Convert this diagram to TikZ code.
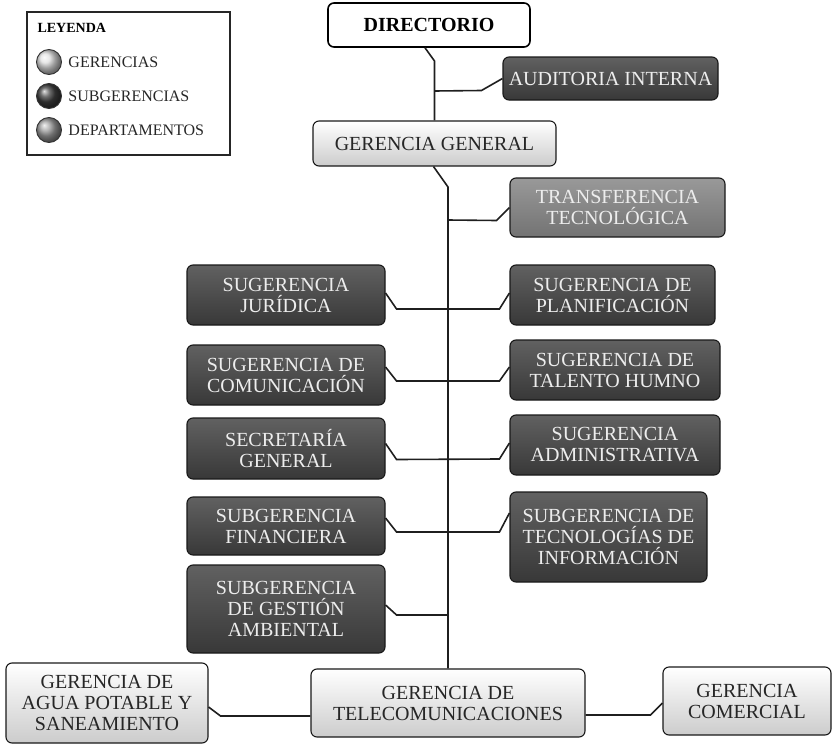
\documentclass[tikz,border=0pt]{standalone}
\usepackage{fontspec}
\setmainfont{Liberation Serif}
\usetikzlibrary{positioning,calc}

\begin{document}
\begin{tikzpicture}[x=1pt,y=-1pt]
	% Configurable lengths
	\def\boxWidth{198pt}
	\def\rowHeight{60pt}
	\def\elbowX{11}
	\def\elbowY{14}

	% Styles
	\tikzstyle{box}=[draw=black!90, line width=1.1pt, rounded corners=6pt, align=center, inner sep=2pt, font={\fontsize{20}{21}\selectfont}]
	\tikzstyle{gerencia}=[box, top color=white, bottom color=black!20, text=black!85]
	\tikzstyle{subgerencia}=[box, top color=black!62, bottom color=black!78, text=black!7, minimum width=\boxWidth, minimum height=\rowHeight]
	\tikzstyle{depto}=[box, top color=black!40, bottom color=black!55, text=black!7]
	\tikzstyle{conn}=[line width=1.6pt, black!88]
	\tikzstyle{ball}=[circle, minimum size=25pt, draw=black!80, line width=0.9pt]
	\tikzstyle{legendtext}=[anchor=west, font={\fontsize{16}{17}\selectfont}, text=black!85]

	\useasboundingbox (0,0) rectangle (833,744);

	% Legend
	\draw[line width=1.6pt, black!85] (27,12) rectangle (230,155);
	\node[anchor=west, font={\fontsize{14}{15}\selectfont\bfseries}] (leyenda) at (34,28) {LEYENDA};
	\node[ball, ball color=black!12] (ballger) at (49,62) {};
	\node[ball, ball color=black!75] (ballsub) at (49,96) {};
	\node[ball, ball color=black!38] (balldep) at (49,130) {};
	\node[legendtext, right=3pt of ballger] {GERENCIAS};
	\node[legendtext, right=3pt of ballsub] {SUBGERENCIAS};
	\node[legendtext, right=3pt of balldep] {DEPARTAMENTOS};

	% Top level
	\node[box, fill=white, draw=black, line width=1.6pt, minimum width=202pt, minimum height=44pt, font={\fontsize{20}{21}\selectfont\bfseries}] (directorio) at (429,25) {DIRECTORIO};
	\node[subgerencia, minimum width=215pt, minimum height=43pt] (auditoria) at (610.5,78.5) {AUDITORIA INTERNA};
	\node[gerencia, minimum width=243pt, minimum height=45pt] (gergeneral) at (434.5,143.5) {GERENCIA GENERAL};
	\node[depto, minimum width=215pt, minimum height=59pt] (transferencia) at (617.5,207.5) {TRANSFERENCIA\\TECNOLÓGICA};

	% Subgerencias, left column
	\node[subgerencia] (juridica) at (286,295) {SUGERENCIA\\JURÍDICA};
	\node[subgerencia] (comunicacion) at (286,375) {SUGERENCIA DE\\COMUNICACIÓN};
	\node[subgerencia, minimum height=61pt] (secretaria) at (286,448.5) {SECRETARÍA\\GENERAL};
	\node[subgerencia, minimum height=58pt] (financiera) at (286,526) {SUBGERENCIA\\FINANCIERA};
	\node[subgerencia, minimum height=88pt] (ambiental) at (286,609) {SUBGERENCIA\\DE GESTIÓN\\AMBIENTAL};

	% Subgerencias, right column
	\node[subgerencia, minimum width=205pt] (planificacion) at (612.5,295) {SUGERENCIA DE\\PLANIFICACIÓN};
	\node[subgerencia, minimum width=210pt] (talento) at (615,370) {SUGERENCIA DE\\TALENTO HUMNO};
	\node[subgerencia, minimum width=210pt] (administrativa) at (615,445) {SUGERENCIA\\ADMINISTRATIVA};
	\node[subgerencia, minimum width=197pt, minimum height=90pt] (tecnologias) at (608.5,537) {SUBGERENCIA DE\\TECNOLOGÍAS DE\\INFORMACIÓN};

	% Gerencias, bottom row
	\node[gerencia, minimum width=202pt, minimum height=80pt] (agua) at (107,703) {GERENCIA DE\\AGUA POTABLE Y\\SANEAMIENTO};
	\node[gerencia, minimum width=274pt, minimum height=68pt] (telecom) at (448,703) {GERENCIA DE\\TELECOMUNICACIONES};
	\node[gerencia, minimum width=168pt, minimum height=68pt] (comercial) at (747,701) {GERENCIA\\COMERCIAL};

	% Spine
	\draw[conn] ($(directorio.south)+(-4,0)$) -- (gergeneral.north |- 0,61) -- (gergeneral.north);
	\draw[conn] (gergeneral.north |- 0,91) -- ($(auditoria.west)+(-21,12)$) -- (auditoria.west);
	\draw[conn] ($(gergeneral.south)+(-1,0)$) -- (telecom.north |- 0,187) -- (telecom.north);
	\draw[conn] (telecom.north |- 0,220) -- ($(transferencia.west)+(-13,13)$) -- (transferencia.west);

	% Branches
	\draw[conn] ($(juridica.east)+(0,-2)$) -- ++(\elbowX,16) -- ($(planificacion.west)+(-10,\elbowY)$) -- ($(planificacion.west)+(0,-2)$);
	\draw[conn] ($(comunicacion.east)+(0,-8)$) -- ++(\elbowX,\elbowY) -- ($(talento.west)+(-10,11)$) -- ($(talento.west)+(0,-3)$);
	\draw[conn] ($(secretaria.east)+(0,-5)$) -- ++(\elbowX,16) -- ($(administrativa.west)+(-10,14)$) -- ($(administrativa.west)+(0,-2)$);
	\draw[conn] ($(financiera.east)+(0,-8)$) -- ++(\elbowX,\elbowY) -- ($(tecnologias.west)+(-10,-5)$) -- ($(tecnologias.west)+(0,-24)$);
	\draw[conn] ($(ambiental.east)+(0,-4)$) -- ++(\elbowX,10) -- (telecom.north |- 0,615);

	% Bottom connections
	\draw[conn] ($(agua.east)+(0,4)$) -- ++(12,9) -- ($(telecom.west)+(0,13)$);
	\draw[conn] ($(telecom.east)+(0,12)$) -- ($(comercial.west)+(-12,14)$) -- ($(comercial.west)+(0,2)$);
\end{tikzpicture}
\end{document}
